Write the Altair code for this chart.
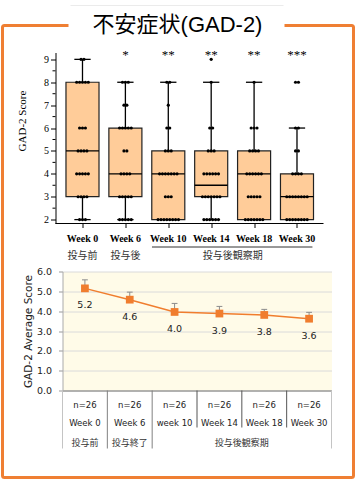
import altair as alt
import pandas as pd

# ---------------- data ----------------
title_text = "不安症状(GAD-2)"

weeks_top = ["Week 0", "Week 6", "Week 10", "Week 14", "Week 18", "Week 30"]
stars_top = ["", "*", "**", "**", "**", "***"]
phase_top = ["投与前", "投与後"]
phase_top_obs = "投与後観察期"

score_levels = [2, 3, 4, 5, 6, 7, 8, 9]
counts_w0 = [3, 4, 5, 4, 3, 0, 5, 2]
counts_w6 = [5, 5, 4, 2, 5, 2, 3, 0]
counts_w10 = [8, 3, 7, 3, 2, 1, 2, 0]
counts_w14 = [6, 7, 6, 3, 2, 0, 1, 1]
counts_w18 = [7, 5, 6, 4, 3, 0, 1, 0]
counts_w30 = [8, 8, 4, 2, 2, 0, 2, 0]

box_q1 = [3, 3, 2, 3, 2, 2]
box_median = [5, 4, 4, 3.5, 4, 3]
box_q3 = [8, 6, 5, 5, 5, 4]
whisker_low = [2, 2, 2, 2, 2, 2]
whisker_high = [9, 8, 8, 8, 8, 6]

weeks_bottom = ["Week 0", "Week 6", "week 10", "Week 14", "Week 18", "Week 30"]
n_labels = ["n=26", "n=26", "n=26", "n=26", "n=26", "n=26"]
phase_bottom = ["投与前", "投与終了"]
phase_bottom_obs = "投与後観察期"
mean_scores = [5.15, 4.58, 3.96, 3.88, 3.81, 3.62]
error_up = [0.43, 0.38, 0.43, 0.36, 0.28, 0.32]
mean_labels = ["5.2", "4.6", "4.0", "3.9", "3.8", "3.6"]

# ---------------- tables ----------------
idx = list(range(len(weeks_top)))
df_box = pd.DataFrame({"idx": idx, "week": weeks_top, "q1": box_q1, "med": box_median,
                       "q3": box_q3, "lo": whisker_low, "hi": whisker_high, "star": stars_top})
all_counts = [counts_w0, counts_w6, counts_w10, counts_w14, counts_w18, counts_w30]
rows = []
for i, cnts in enumerate(all_counts):
    for s, c in zip(score_levels, cnts):
        rows += [{"idx": i, "score": s}] * c
df_dots = pd.DataFrame(rows)
obs_center = (2 + len(weeks_top) - 1) / 2
df_phase_top = pd.DataFrame({"pos": [0, 1, obs_center], "label": phase_top + [phase_top_obs]})
df_minor = pd.DataFrame({"m": [s + 0.5 for s in score_levels[:-1]]})
one = pd.DataFrame({"k": [0]})

df_mean = pd.DataFrame({"idx": idx, "week": weeks_bottom, "n": n_labels, "mean": mean_scores,
                        "err": error_up, "lab": mean_labels})
df_phase_b = pd.DataFrame({"pos": [0, 1, obs_center], "label": phase_bottom + [phase_bottom_obs]})
bounds_edge = pd.DataFrame({"b": [-0.5, len(idx) - 0.5]})
bounds_mid = pd.DataFrame({"b": [0.5, 1.5]})
bounds_short = pd.DataFrame({"b": [2.5, 3.5, 4.5]})

# ---------------- styles ----------------
ORANGE = "#EF7F33"
LINE_OR = "#F07D2E"
SERIF = "Liberation Serif"
SANS = "DejaVu Sans"
CJK = "Noto Sans CJK JP"

TW, TH = 261, 171
xs_top = alt.Scale(domain=[-0.466, 5.618], nice=False, zero=False)
ys_top = alt.Scale(domain=[1.83, 9.3], nice=False, zero=False)
x_axis_top = alt.Axis(values=idx, labels=False, ticks=True, tickSize=4, tickColor="black",
                      domain=False, grid=False, title=None)
y_axis_top = alt.Axis(values=score_levels, offset=7, tickSize=5, tickColor="black",
                      domainColor="black", labelFont=SERIF, labelFontSize=10, labelColor="black",
                      labelPadding=2, grid=False, title="GAD-2 Score", titleFont=SERIF,
                      titleFontSize=11, titleFontWeight="normal", titleColor="black",
                      titleX=-28, titleY=68)


def XT(f):
    return alt.X(f, type="quantitative", scale=xs_top, axis=x_axis_top)


def YT(f):
    return alt.Y(f, type="quantitative", scale=ys_top, axis=y_axis_top)


frame = alt.Chart(one).mark_rect(fill="transparent", stroke=ORANGE, strokeWidth=3, cornerRadius=2).encode(
    x=alt.value(-60), x2=alt.value(291), y=alt.value(-27), y2=alt.value(425))
title_box = alt.Chart(one).mark_rect(fill="white").encode(
    x=alt.value(6), x2=alt.value(222), y=alt.value(-44), y2=alt.value(-14))
title_line = alt.Chart(one).mark_rule(color="#EBEBEB", strokeWidth=1).encode(
    x=alt.value(8), x2=alt.value(221), y=alt.value(-47))
title_mark = alt.Chart(pd.DataFrame({"t": [title_text]})).mark_text(
    font="Liberation Sans, Noto Sans CJK JP", fontSize=22, color="black", baseline="middle", align="center"
).encode(x=alt.value(115), y=alt.value(-28), text="t:N")

whisk = alt.Chart(df_box).mark_rule(color="black", strokeWidth=1.3).encode(
    x=XT("idx"), y=YT("lo"), y2=alt.Y2("hi"))
caps_base = alt.Chart(df_box).transform_calculate(cl="datum.idx - 0.19", cr="datum.idx + 0.19")
cap_hi = caps_base.mark_rule(color="black", strokeWidth=1.3).encode(x=XT("cl"), x2=alt.X2("cr"), y=YT("hi"))
cap_lo = caps_base.mark_rule(color="black", strokeWidth=1.3).encode(x=XT("cl"), x2=alt.X2("cr"), y=YT("lo"))
box_base = alt.Chart(df_box).transform_calculate(bl="datum.idx - 0.385", br="datum.idx + 0.385")
box = box_base.mark_rect(fill="#FFCC99", stroke="#222222", strokeWidth=1.2).encode(
    x=XT("bl"), x2=alt.X2("br"), y=YT("q1"), y2=alt.Y2("q3"))
median = box_base.mark_rule(color="black", strokeWidth=1.3).encode(
    x=XT("bl"), x2=alt.X2("br"), y=YT("med"))
dots = alt.Chart(df_dots).transform_window(
    rn="row_number()", groupby=["idx", "score"]
).transform_joinaggregate(
    cnt="count()", groupby=["idx", "score"]
).transform_calculate(
    xd="datum.idx + (datum.rn - (datum.cnt + 1) / 2) * 0.068"
).mark_circle(size=10, color="black", opacity=1).encode(x=XT("xd"), y=YT("score"))
stars = alt.Chart(df_box).mark_text(font=SERIF, fontSize=13, color="black", baseline="middle").encode(
    x=XT("idx"), y=alt.value(2), text="star:N")
axis_line = alt.Chart(one).mark_rule(color="black", strokeWidth=1).encode(
    x=alt.value(-7), x2=alt.value(TW), y=alt.value(TH))
minor = alt.Chart(df_minor).mark_rule(color="black", strokeWidth=1).encode(
    x=alt.value(-10), x2=alt.value(-7), y=YT("m"))
week_labels = alt.Chart(df_box).mark_text(font=SERIF, fontSize=10, fontWeight="bold", color="black",
                                          baseline="middle").encode(
    x=XT("idx"), y=alt.value(186), text="week:N")
phase_labels = alt.Chart(df_phase_top).mark_text(font=CJK, fontSize=10, color="#333333",
                                                 baseline="middle").encode(
    x=XT("pos"), y=alt.value(203), text="label:N")
phase_line = alt.Chart(df_box).transform_filter("datum.idx >= 2").transform_aggregate(
    a="min(idx)", b="max(idx)"
).transform_calculate(a2="datum.a - 0.38", b2="datum.b + 0.36").mark_rule(
    color="#333333", strokeWidth=1).encode(x=XT("a2"), x2=alt.X2("b2"), y=alt.value(194.5))

top = alt.layer(frame, title_box, title_line, title_mark, whisk, cap_hi, cap_lo, box, median, dots,
                stars, axis_line, minor, week_labels, phase_labels, phase_line).properties(
    width=TW, height=TH)

# ---------------- bottom chart ----------------
BW, BH = 269, 119
xs_b = alt.Scale(domain=[-0.5, 5.5], nice=False, zero=False)
ys_b = alt.Scale(domain=[0, 6], nice=False, zero=True)
x_axis_b = alt.Axis(labels=False, ticks=False, domain=True, domainColor="#777777", grid=False, title=None)
y_axis_b = alt.Axis(values=[0, 1, 2, 3, 4, 5, 6], format=".1f", tickSize=4, tickColor="#999999",
                    domainColor="#AAAAAA", labelFont=SANS, labelFontSize=9.5, labelColor="#222222",
                    labelPadding=7, grid=True, gridColor="#DADADA", title="GAD-2 Average Score",
                    titleFont=SANS, titleFontSize=10.5, titleFontWeight="normal", titleColor="#222222",
                    titlePadding=3)


def XB(f):
    return alt.X(f, type="quantitative", scale=xs_b, axis=x_axis_b)


def YB(f):
    return alt.Y(f, type="quantitative", scale=ys_b, axis=y_axis_b)


mbase = alt.Chart(df_mean).transform_calculate(top="datum.mean + datum.err",
                                               cl="datum.idx - 0.065", cr="datum.idx + 0.065")
err_rule = mbase.mark_rule(color="#8C8C8C", strokeWidth=1).encode(x=XB("idx"), y=YB("mean"), y2=alt.Y2("top"))
err_cap = mbase.mark_rule(color="#8C8C8C", strokeWidth=1).encode(x=XB("cl"), x2=alt.X2("cr"), y=YB("top"))
line = mbase.mark_line(color=LINE_OR, strokeWidth=1.5).encode(x=XB("idx"), y=YB("mean"))
squares = mbase.mark_square(size=60, color=LINE_OR, opacity=1).encode(x=XB("idx"), y=YB("mean"))
val_labels = mbase.mark_text(dy=17, font=SANS, fontSize=9.5, color="#222222", baseline="middle").encode(
    x=XB("idx"), y=YB("mean"), text="lab:N")
sep_edge = alt.Chart(bounds_edge).mark_rule(color="#C4C4C4", strokeWidth=1).encode(
    x=XB("b"), y=alt.value(BH), y2=alt.value(177))
sep_mid = alt.Chart(bounds_mid).mark_rule(color="#808080", strokeWidth=1).encode(
    x=XB("b"), y=alt.value(BH), y2=alt.value(177))
sep_short = alt.Chart(bounds_short).mark_rule(color="#555555", strokeWidth=1).encode(
    x=XB("b"), y=alt.value(BH), y2=alt.value(156))
n_row = mbase.mark_text(font=SANS, fontSize=8.5, color="#222222", baseline="middle").encode(
    x=XB("idx"), y=alt.value(133), text="n:N")
w_row = mbase.mark_text(font=SANS, fontSize=8.5, color="#222222", baseline="middle").encode(
    x=XB("idx"), y=alt.value(151), text="week:N")
p_row = alt.Chart(df_phase_b).mark_text(font=CJK, fontSize=9, color="#333333", baseline="middle").encode(
    x=XB("pos"), y=alt.value(171), text="label:N")

bottom = alt.layer(err_rule, err_cap, line, squares, val_labels, sep_edge, sep_mid, sep_short,
                   n_row, w_row, p_row).properties(
    width=BW, height=BH, view=alt.ViewBackground(fill="#FFFBE8", stroke="transparent"))

chart = alt.vconcat(top, bottom, spacing=48, bounds="flush").properties(
    padding={"left": 0.5, "top": 4.5, "right": 0, "bottom": 0}
).configure_view(stroke="transparent")

chart.save("out.html", embed_options={"renderer": "svg", "actions": False})
